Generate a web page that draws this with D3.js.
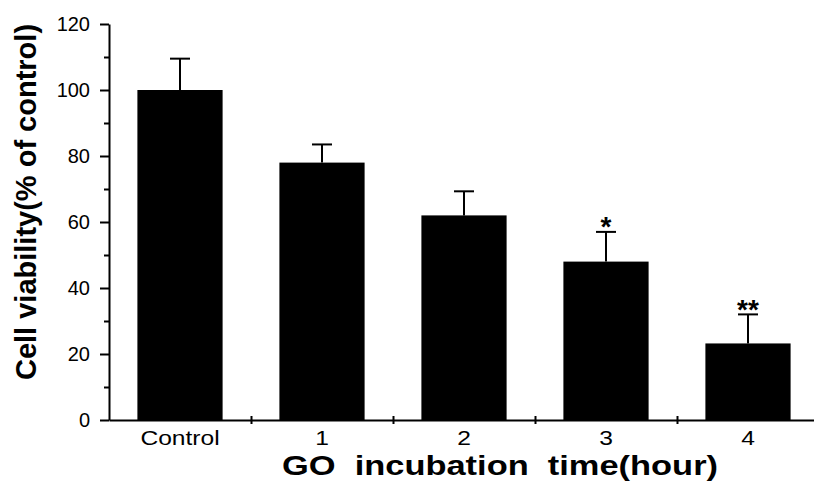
<!DOCTYPE html>
<meta charset="utf-8">
<style>
  body { margin: 0; background: #fff; }
  svg { display: block; font-family: "Liberation Sans", Arial, sans-serif; }
  .axis path, .axis line { stroke: #000; stroke-width: 2; }
  .axis text { fill: #000; }
</style>
<svg width="814" height="488"></svg>
<script src="https://cdn.jsdelivr.net/npm/d3@7"></script>
<script>
var categories = ["Control", "1", "2", "3", "4"];
var viability = [100, 78, 62, 48, 23.2];
var errors = [9.5, 5.5, 7.3, 9, 8.8];
var marks = ["", "", "", "*", "**"];
var yTicks = [0, 20, 40, 60, 80, 100, 120];
var yMinor = [10, 30, 50, 70, 90, 110];

var svg = d3.select("svg"),
  plotLeft = 109, plotRight = 819, plotTop = 24, plotBottom = 420;

var x = d3.scaleBand()
  .domain(categories)
  .range([plotLeft, plotRight])
  .paddingInner(0.4)
  .paddingOuter(0.2);

var xb = d3.scaleLinear().domain([0, categories.length]).range([plotLeft, plotRight]);

var y = d3.scaleLinear().domain([0, 120]).range([plotBottom, plotTop]);

// bars
svg.selectAll(".bar")
  .data(categories)
  .enter().append("rect")
  .attr("class", "bar")
  .attr("x", function(d) { return x(d); })
  .attr("y", function(d, i) { return y(viability[i]); })
  .attr("width", x.bandwidth())
  .attr("height", function(d, i) { return y(0) - y(viability[i]); })
  .attr("fill", "#000");

// error bars
var err = svg.selectAll(".err")
  .data(categories)
  .enter().append("g")
  .attr("class", "err")
  .attr("stroke", "#000")
  .attr("stroke-width", 2);

err.append("line")
  .attr("x1", function(d) { return x(d) + x.bandwidth() / 2; })
  .attr("x2", function(d) { return x(d) + x.bandwidth() / 2; })
  .attr("y1", function(d, i) { return y(viability[i]); })
  .attr("y2", function(d, i) { return y(viability[i] + errors[i]); });

err.append("line")
  .attr("x1", function(d) { return x(d) + x.bandwidth() / 2 - 10; })
  .attr("x2", function(d) { return x(d) + x.bandwidth() / 2 + 10; })
  .attr("y1", function(d, i) { return y(viability[i] + errors[i]); })
  .attr("y2", function(d, i) { return y(viability[i] + errors[i]); });

// significance marks
svg.selectAll(".sig")
  .data(categories)
  .enter().append("text")
  .attr("class", "sig")
  .attr("x", function(d) { return x(d) + x.bandwidth() / 2; })
  .attr("y", function(d, i) { return y(viability[i] + errors[i]) + 4 + (marks[i].length > 1 ? 1 : 0); })
  .attr("text-anchor", "middle")
  .style("font-size", "28px")
  .style("font-weight", "bold")
  .text(function(d, i) { return marks[i]; });

// y axis
svg.append("g")
  .attr("class", "axis")
  .attr("transform", "translate(" + plotLeft + ",0)")
  .call(d3.axisLeft(y).tickValues(yMinor).tickSize(5).tickFormat(""))
  .select(".domain").remove();

svg.append("g")
  .attr("class", "axis")
  .attr("transform", "translate(" + plotLeft + ",0)")
  .call(d3.axisLeft(y).tickValues(yTicks).tickSizeInner(9).tickSizeOuter(0).tickPadding(10))
  .selectAll("text")
  .style("font-size", "20px");

// x axis
svg.append("g")
  .attr("class", "axis")
  .attr("transform", "translate(0," + plotBottom + ")")
  .call(d3.axisBottom(x).tickSize(0).tickSizeOuter(0).tickPadding(11))
  .selectAll("text")
  .style("font-size", "20px")
  .attr("transform", "scale(1.23,1)");

svg.append("g")
  .attr("class", "axis")
  .attr("transform", "translate(0," + (plotBottom - 4) + ")")
  .call(d3.axisBottom(xb).tickValues([1, 2, 3, 4]).tickSize(8).tickFormat(""))
  .select(".domain").remove();

// axis titles
svg.append("text")
  .attr("x", 282)
  .attr("y", 475)
  .attr("textLength", 436)
  .attr("lengthAdjust", "spacingAndGlyphs")
  .style("font-size", "28px")
  .style("font-weight", "bold")
  .style("white-space", "pre")
  .text("GO  incubation  time(hour)");

svg.append("text")
  .attr("transform", "translate(36,202) rotate(-90)")
  .attr("text-anchor", "middle")
  .style("font-size", "29px")
  .style("font-weight", "bold")
  .text("Cell viability(% of control)");
</script>
